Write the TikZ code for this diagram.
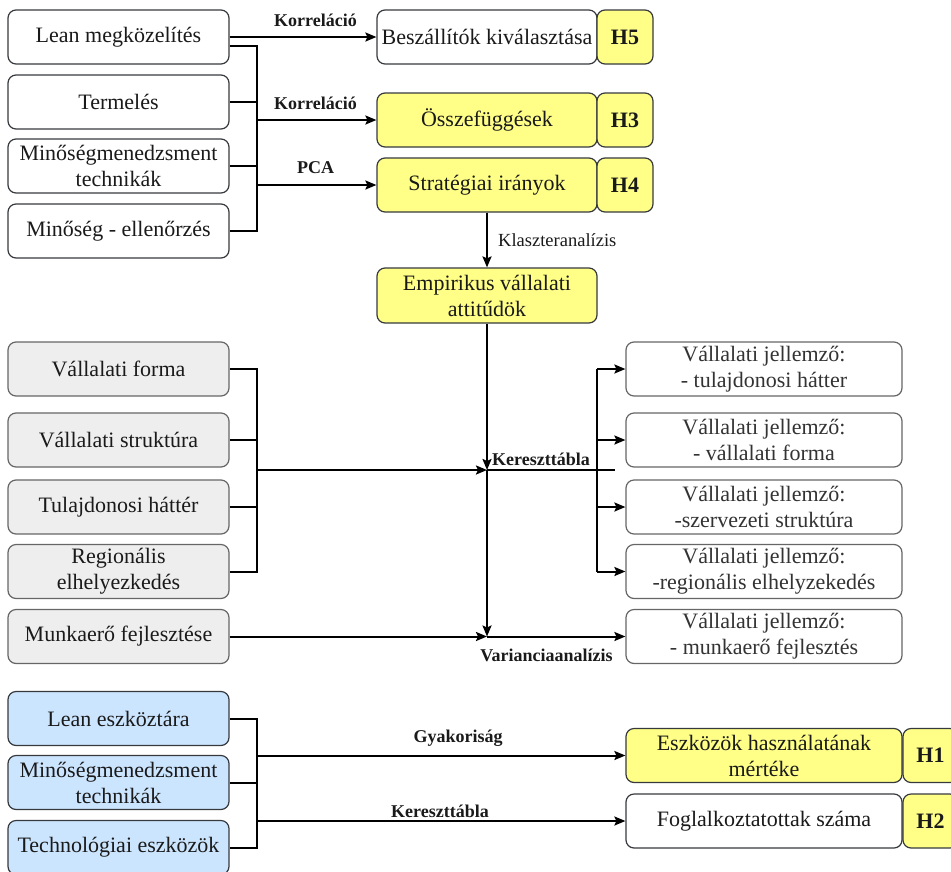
\documentclass[tikz,border=0pt]{standalone}
\usepackage{fontspec}
\setmainfont{Liberation Serif}
\usetikzlibrary{arrows.meta}
\definecolor{yel}{HTML}{FFFF88}
\definecolor{gry}{HTML}{EEEEEE}
\definecolor{blu}{HTML}{CCE5FF}
\definecolor{bdr}{HTML}{36393D}
\definecolor{gbdr}{HTML}{666666}
\definecolor{txt}{HTML}{1A1A1A}
\begin{document}
\begin{tikzpicture}[x=1pt,y=-1pt,
  box/.style={draw=bdr, line width=1.2pt, rounded corners=8pt, minimum height=54pt, inner sep=0pt, align=center, text=txt, font=\fontsize{22}{26}\selectfont},
  lbox/.style={box, minimum width=221pt, fill=white},
  gbox/.style={lbox, fill=gry, draw=gbdr},
  bbox/.style={lbox, fill=blu},
  rbox/.style={box, minimum width=220pt, fill=white},
  ybox/.style={rbox, fill=yel},
  vbox/.style={box, minimum width=276pt, fill=white, draw=gbdr, text=black!80},
  hbox/.style={box, minimum width=56pt, fill=yel, font=\fontsize{22}{26}\selectfont\bfseries},
  conn/.style={line width=2pt, draw=black},
  arr/.style={conn, -{Stealth[length=11pt,width=9pt,inset=2pt]}},
  lab/.style={font=\fontsize{18}{20}\selectfont\bfseries, inner sep=0pt, text=txt}
]
\useasboundingbox (0,0) rectangle (951,871);

% ---- top section
\node[lbox] (lean) at (118.5,37) {Lean megközelítés};
\node[lbox] (term) at (118.5,102) {Termelés};
\node[lbox] (min1) at (118.5,166) {Minőségmenedzsment\\technikák};
\node[lbox] (mine) at (118.5,231) {Minőség - ellenőrzés};

\node[rbox] (besz) at (487,37) {Beszállítók kiválasztása};
\node[hbox] (h5) at (625,37) {H5};
\node[ybox] (ossz) at (487,120) {Összefüggések};
\node[hbox] (h3) at (625,120) {H3};
\node[ybox] (strat) at (487,185) {Stratégiai irányok};
\node[hbox] (h4) at (625,185) {H4};
\node[ybox, minimum height=55pt] (emp) at (487,295.5) {Empirikus vállalati\\attitűdök};

\coordinate (b1t) at (257,46);
\coordinate (b1b) at (257,231);
\draw[arr] (lean.east) -- (besz.west);
\draw[conn] ([yshift=-9pt]lean.east) -- (b1t) -- (b1b) -- (mine.east);
\draw[conn] (term.east) -- (term.east -| b1t);
\draw[conn] (min1.east) -- (min1.east -| b1t);
\draw[arr] (ossz.west -| b1t) -- (ossz.west);
\draw[arr] (strat.west -| b1t) -- (strat.west);
\draw[arr] (strat.south) -- (emp.north);

\node[lab] (k1) at (315.5,20) {Korreláció};
\node[lab] (k2) at (315.5,103) {Korreláció};
\node[lab] (pca) at (315.5,168) {PCA};
\node[font=\fontsize{18.5}{20}\selectfont, anchor=west, inner sep=0pt, text=txt] (klab) at (498,240) {Klaszteranalízis};

% ---- middle section
\node[gbox] (gf) at (118.5,369) {Vállalati forma};
\node[gbox] (gs) at (118.5,440) {Vállalati struktúra};
\node[gbox] (gt) at (118.5,507) {Tulajdonosi háttér};
\node[gbox] (gr) at (118.5,571.5) {Regionális\\elhelyezkedés};
\node[gbox] (gm) at (118.5,636.5) {Munkaerő fejlesztése};

\node[vbox] (v1) at (764,369) {Vállalati jellemző:\\- tulajdonosi hátter};
\node[vbox] (v2) at (764,440) {Vállalati jellemző:\\- vállalati forma};
\node[vbox] (v3) at (764,507) {Vállalati jellemző:\\-szervezeti struktúra};
\node[vbox] (v4) at (764,571.5) {Vállalati jellemző:\\-regionális elhelyzekedés};
\node[vbox] (v5) at (764,636.5) {Vállalati jellemző:\\- munkaerő fejlesztés};

\coordinate (b2t) at (257,369);
\coordinate (b2b) at (257,571.5);
\draw[conn] (gf.east) -- (b2t) -- (b2b) -- (gr.east);
\draw[conn] (gs.east) -- (gs.east -| b2t);
\draw[conn] (gt.east) -- (gt.east -| b2t);

\coordinate (j1) at (487,470);
\coordinate (j2) at (487,636.5);
\coordinate (j1e) at (615,470);
\draw[arr] (b2t |- j1) -- (j1);
\draw[arr] (emp.south) -- (j1);
\draw[arr] (j1) -- (j2);
\draw[arr] (gm.east) -- (j2);
\draw[arr] (j2) -- (v5.west);
\draw[conn] (j1) -- (j1e);

\coordinate (b3t) at (597,369);
\coordinate (b3b) at (597,571.5);
\draw[conn] (b3t) -- (b3b);
\draw[arr] (b3t) -- (v1.west);
\draw[arr] (v2.west -| b3t) -- (v2.west);
\draw[arr] (v3.west -| b3t) -- (v3.west);
\draw[arr] (b3b) -- (v4.west);

\node[lab, anchor=west] (kt1) at (492,459) {Kereszttábla};
\node[lab] (var) at (546.5,655) {Varianciaanalízis};

% ---- bottom section
\node[bbox] (bl) at (118.5,718.5) {Lean eszköztára};
\node[bbox] (bm) at (118.5,782.5) {Minőségmenedzsment\\technikák};
\node[bbox] (bt) at (118.5,847.5) {Technológiai eszközök};

\node[ybox, minimum width=276pt] (esz) at (764,755.5) {Eszközök használatának\\mértéke};
\node[hbox, minimum width=55pt] (h1) at (930.5,755.5) {H1};
\node[rbox, minimum width=276pt] (fog) at (764,821) {Foglalkoztatottak száma};
\node[hbox, minimum width=55pt] (h2) at (930.5,821) {H2};

\coordinate (b4t) at (257,718.5);
\coordinate (b4b) at (257,847.5);
\draw[conn] (bl.east) -- (b4t) -- (b4b) -- (bt.east);
\draw[conn] (bm.east) -- (bm.east -| b4t);
\draw[arr] (esz.west -| b4t) -- (esz.west);
\draw[arr] (fog.west -| b4t) -- (fog.west);

\node[lab] (gy) at (458,738) {Gyakoriság};
\node[lab] (kt2) at (440,811) {Kereszttábla};
\end{tikzpicture}
\end{document}
